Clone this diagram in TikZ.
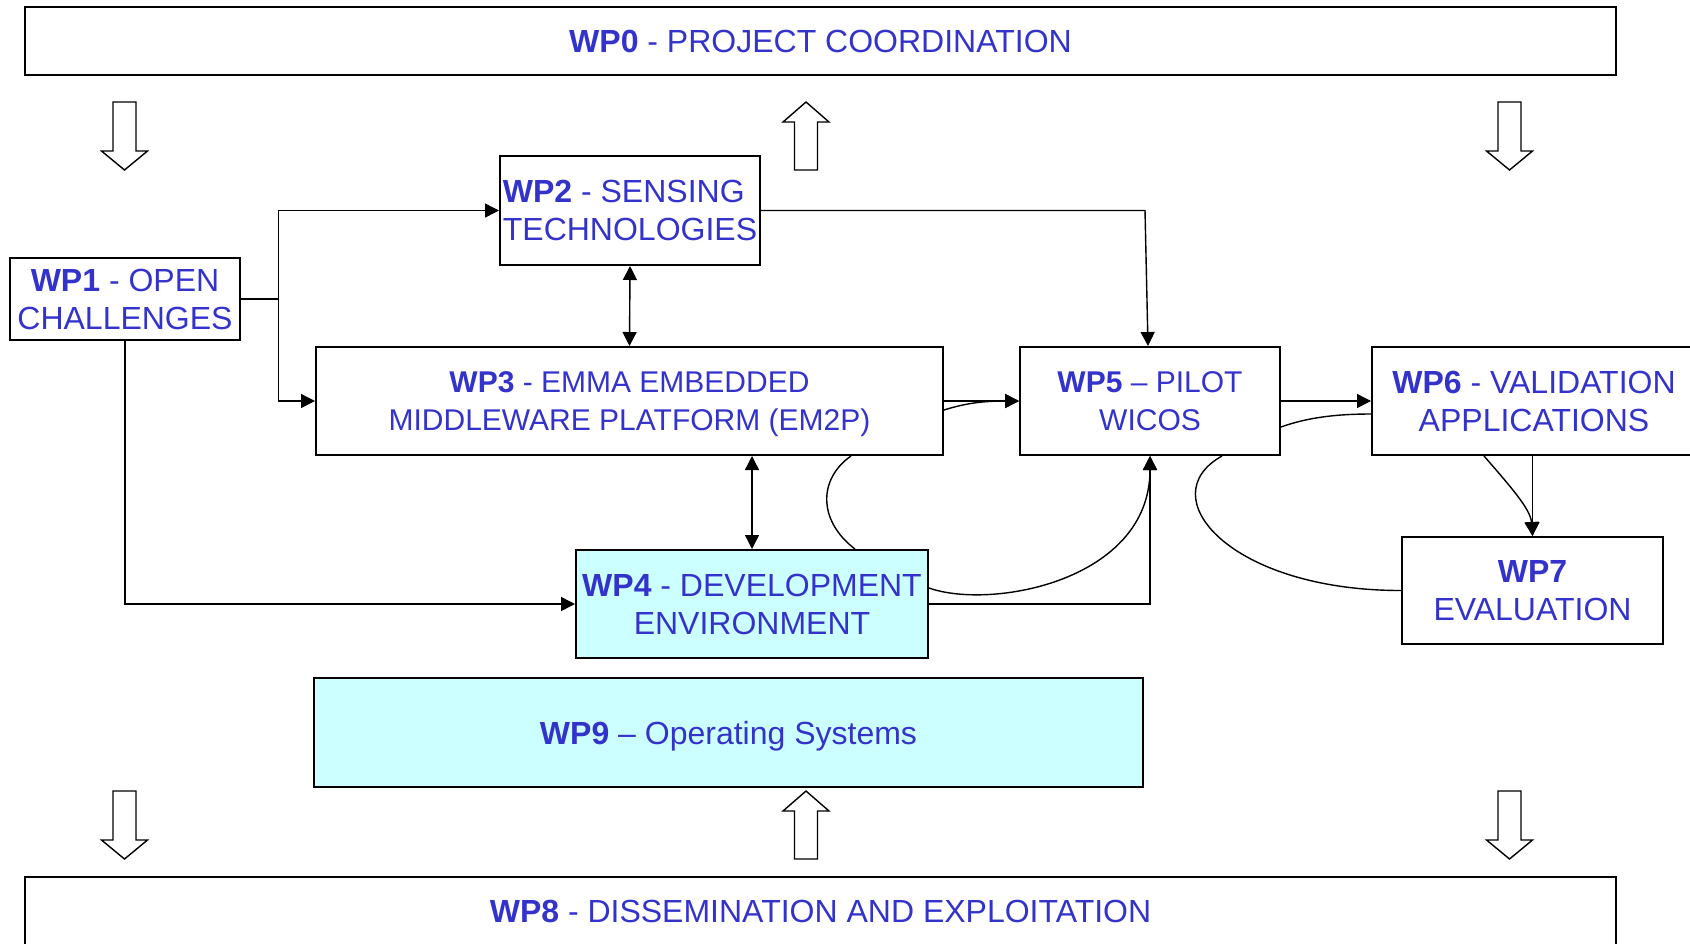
\documentclass[tikz,border=0pt]{standalone}
\usepackage{fontspec}
\setmainfont{Liberation Sans}
\usetikzlibrary{arrows.meta,calc}
\definecolor{wptext}{HTML}{3333CC}
\definecolor{wpfill}{HTML}{CCFFFF}

\begin{document}
\begin{tikzpicture}[x=0.5pt, y=-0.5pt,
  wpbox/.style={draw, line width=1pt, inner sep=0pt, text=wptext, align=center,
    text depth=0pt, font=\fontsize{16}{19}\selectfont},
  smalltext/.style={font=\fontsize{15}{19}\selectfont},
  shaded/.style={fill=wpfill},
  conn/.style={line width=0.7pt},
  arr/.style={conn, -{Triangle[length=7pt,width=7pt]}},
  dblarr/.style={conn, {Triangle[length=7pt,width=7pt]}-{Triangle[length=7pt,width=7pt]}},
  blockdown/.pic={\draw[line width=0.7pt, fill=white]
    (-11.5,0) -- (11.5,0) -- (11.5,49) -- (23,49) -- (0,68) -- (-23,49) -- (-11.5,49) -- cycle;},
  blockup/.pic={\draw[line width=0.7pt, fill=white]
    (0,0) -- (23,20) -- (11.5,20) -- (11.5,68) -- (-11.5,68) -- (-11.5,20) -- (-23,20) -- cycle;}
]
\useasboundingbox (0,0) rectangle (1690,943);

% work package boxes
\node[wpbox, minimum width=795.5pt, minimum height=34pt] (wp0) at (820.5,41)
  {\textbf{WP0} - PROJECT COORDINATION};
\node[wpbox, minimum width=115pt, minimum height=41pt] (wp1) at (125,299)
  {\textbf{WP1} - OPEN\\CHALLENGES};
\node[wpbox, align=left, minimum width=130pt, minimum height=54.5pt] (wp2) at (630,210.5)
  {\textbf{WP2} - SENSING\\TECHNOLOGIES};
\node[wpbox, smalltext, minimum width=313.5pt, minimum height=54pt] (wp3) at (629.5,401)
  {\textbf{WP3} - EMMA EMBEDDED\\MIDDLEWARE PLATFORM (EM2P)};
\node[wpbox, shaded, minimum width=176pt, minimum height=54pt] (wp4) at (752,604)
  {\textbf{WP4} - DEVELOPMENT\\ENVIRONMENT};
\node[wpbox, smalltext, minimum width=130pt, minimum height=54pt] (wp5) at (1150,401)
  {\textbf{WP5} -- PILOT\\WICOS};
\node[wpbox, minimum width=162pt, minimum height=54pt] (wp6) at (1534,401)
  {\textbf{WP6} - VALIDATION\\APPLICATIONS};
\node[wpbox, minimum width=130.5pt, minimum height=53.5pt] (wp7) at (1532.5,590.5)
  {\textbf{WP7}\\EVALUATION};
\node[wpbox, shaded, minimum width=414.5pt, minimum height=54.5pt] (wp9) at (728.5,732.5)
  {\textbf{WP9} -- Operating Systems};
\node[wpbox, minimum width=795.5pt, minimum height=34pt] (wp8) at (820.5,911)
  {\textbf{WP8} - DISSEMINATION AND EXPLOITATION};

% block arrows to and from coordination / dissemination
\pic at (124.5,102) {blockdown};
\pic at (806,102) {blockup};
\pic at (1509.5,102) {blockdown};
\pic at (124.5,791) {blockdown};
\pic at (806,791) {blockup};
\pic at (1509.5,791) {blockdown};

% connectors
\coordinate (j1) at ($(wp1.east)+(37.5,0)$);
\draw[conn] (wp1.east) -- (j1);
\draw[arr] (j1) |- (wp2.west);
\draw[arr] (j1) |- (wp3.west);
\draw[dblarr] (wp2.south) -- (wp3.north);

\coordinate (c25) at ($(wp2.east -| wp5.north)+(-5,0)$);
\draw[arr] (wp2.east) -- (c25) -- ($(wp5.north)+(-2,0)$);

\draw[arr] (wp3.east) -- (wp5.west);
\draw[arr] ($(wp3.east)+(0,9)$) .. controls ($(wp3.east)+(22,2)$) and ($(wp5.west)+(-35,0)$) .. (wp5.west);

\draw[arr] (wp5.east) -- (wp6.west);
\draw[conn] ($(wp5.east)+(0,26)$) .. controls ($(wp5.east)+(25,17)$) and ($(wp6.west)+(-37,13)$) .. ($(wp6.west)+(0,13)$);

\draw[arr] (wp7.north |- wp6.south) -- (wp7.north);
\draw[arr] ($(wp6.south)+(-50,0)$) .. controls ($(wp6.south)+(-24,30)$) and ($(wp7.north)+(-2,-27)$) .. (wp7.north);

\draw[dblarr] (wp4.north |- wp3.south) -- (wp4.north);
\draw[conn] ($(wp3.south)+(221.5,0)$) .. controls ($(wp3.south)+(188.5,23)$) and ($(wp4.north)+(66,-28)$) .. ($(wp4.north)+(103,0)$);

\draw[arr] (wp1.south) |- (wp4.west);
\draw[arr] (wp4.east) -| (wp5.south);
\draw[arr] ($(wp4.east)+(0,-16)$) .. controls ($(wp4.east)+(62,6)$) and ($(wp5.south)+(0,125)$) .. (wp5.south);

\draw[conn] ($(wp5.south)+(72,0)$) .. controls ($(wp5.south)+(0,40)$) and ($(wp7.west)+(-172,0)$) .. (wp7.west);
\end{tikzpicture}
\end{document}
